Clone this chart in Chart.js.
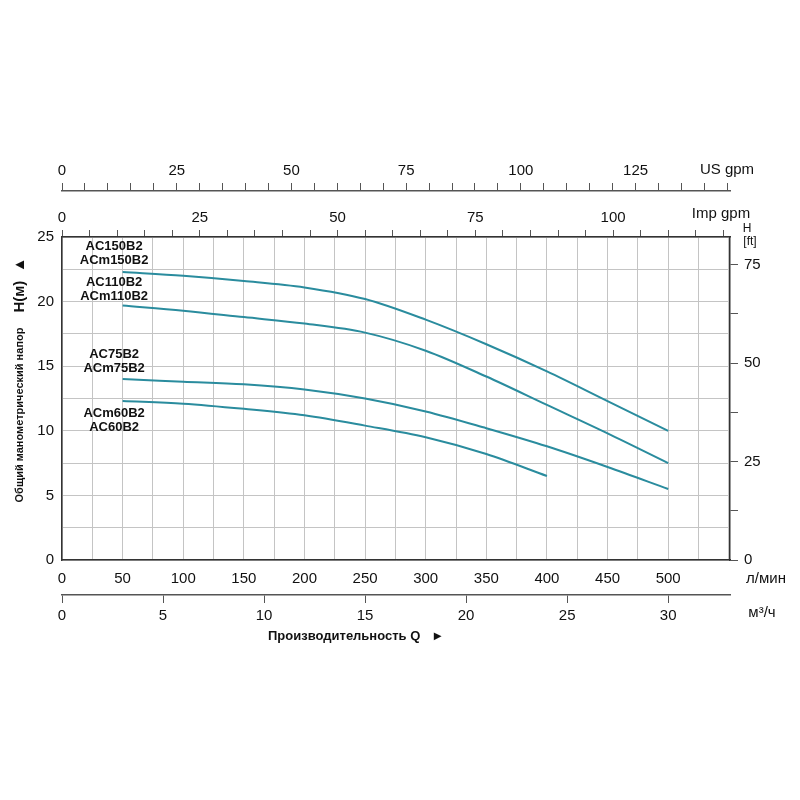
<!DOCTYPE html>
<html><head><meta charset="utf-8">
<script src="https://cdn.jsdelivr.net/npm/chart.js@4"></script>
<style>body{margin:0;background:#fff}</style>
</head><body>
<canvas id="c" width="800" height="800"></canvas>
<script>
const flowLpm = [50,100,150,200,250,300,350,400,450,500];
const headAC150 = [22.3,22.0,21.6,21.1,20.2,18.6,16.7,14.6,12.3,10.0];
const headAC110 = [19.7,19.3,18.8,18.3,17.6,16.2,14.2,12.0,9.8,7.5];
const headAC75  = [14.0,13.8,13.6,13.2,12.5,11.5,10.2,8.8,7.2,5.5];
const flowAC60  = [50,100,150,200,250,300,350,400];
const headAC60  = [12.3,12.1,11.7,11.2,10.4,9.5,8.2,6.5];
const curveLabels = [["AC150B2","ACm150B2"],["AC110B2","ACm110B2"],["AC75B2","ACm75B2"],["ACm60B2","AC60B2"]];
const labelHeads = [23.75,20.95,15.35,10.8];

const XMAX = 551;
const col = '#2a8c9e';
const font = {family:'Liberation Sans, Arial, sans-serif', size:15};
function pts(xs,ys){return xs.map((x,i)=>({x,y:ys[i]}));}
function ds(d){return {data:d,borderColor:col,borderWidth:2,pointRadius:0,cubicInterpolationMode:'monotone',fill:false};}
function fix(prop,v){return s=>{s[prop]=v;};}
function stepTicks(step){return s=>{const t=[];for(let v=s.min;v<=s.max+1e-6;v+=step)t.push({value:Math.round(v*1000)/1000});s.ticks=t;};}

const textPlugin={id:'txt',afterDraw(ch){
  const c=ch.ctx, y=ch.scales.y, x=ch.scales.x;
  c.save();c.fillStyle='#111';c.textAlign='center';c.textBaseline='middle';
  c.font='bold 13px Liberation Sans, Arial, sans-serif';
  curveLabels.forEach((l,i)=>{const yy=y.getPixelForValue(labelHeads[i]);
    c.fillText(l[0],x.getPixelForValue(43),yy-7);c.fillText(l[1],x.getPixelForValue(43),yy+7);});
  c.font='15px Liberation Sans, Arial, sans-serif';
  c.fillText('US gpm',727,170);c.fillText('Imp gpm',721,214);
  c.fillText('л/мин',766,579);c.fillText('м³/ч',762,613);
  c.font='12px Liberation Sans, Arial, sans-serif';
  c.fillText('H',747,229);c.fillText('[ft]',750,242);
  c.font='bold 13px Liberation Sans, Arial, sans-serif';
  c.textAlign='left';c.fillText('Производительность Q   ►',268,636);
  c.translate(20,400);c.rotate(-Math.PI/2);c.textAlign='center';
  c.font='bold 11px Liberation Sans, Arial, sans-serif';
  c.fillText('Общий манометрический напор',-15,0);
  c.font='bold 15px Liberation Sans, Arial, sans-serif';
  c.fillText('H(м)  ▲',115,0);
  c.restore();
}};

new Chart(document.getElementById('c'),{
  type:'line',
  data:{datasets:[ds(pts(flowLpm,headAC150)),ds(pts(flowLpm,headAC110)),ds(pts(flowLpm,headAC75)),ds(pts(flowAC60,headAC60))]},
  options:{responsive:false,animation:false,
    layout:{padding:{top:158,bottom:155,left:0,right:0}},
    plugins:{legend:{display:false},tooltip:{enabled:false}},
    scales:{
      x:{type:'linear',position:'bottom',min:0,max:XMAX,weight:0,afterFit:fix('height',35),
        afterBuildTicks:stepTicks(25),
        grid:{color:'#c4c4c4',tickLength:0,drawTicks:false},border:{color:'#333',width:1.5},
        ticks:{font,color:'#111',padding:10,maxRotation:0,autoSkip:false,callback:v=>(v%50===0&&v<=500)?v:''}},
      xm:{type:'linear',position:'bottom',min:0,max:XMAX/16.6667,weight:1,afterFit:fix('height',50),
        afterBuildTicks:stepTicks(5),
        grid:{drawOnChartArea:false,tickLength:8,color:'#555'},border:{color:'#555',width:1.5},
        ticks:{font,color:'#111',padding:4,maxRotation:0,autoSkip:false,callback:v=>v<=30?v:''}},
      ximp:{type:'linear',position:'top',min:0,max:XMAX/4.546,weight:0,afterFit:fix('height',46),
        afterBuildTicks:stepTicks(5),
        grid:{drawOnChartArea:false,tickLength:7,color:'#555'},border:{color:'#333',width:1.5},
        ticks:{font,color:'#111',padding:3,maxRotation:0,autoSkip:false,callback:v=>(v%25===0&&v<=100)?v:''}},
      xus:{type:'linear',position:'top',min:0,max:XMAX/3.785,weight:1,afterFit:fix('height',33),
        afterBuildTicks:stepTicks(5),
        grid:{drawOnChartArea:false,tickLength:8,color:'#555'},border:{color:'#555',width:1.5},
        ticks:{font,color:'#111',padding:3,maxRotation:0,autoSkip:false,callback:v=>(v%25===0&&v<=125)?v:''}},
      y:{type:'linear',position:'left',min:0,max:25,afterFit:fix('width',62),
        afterBuildTicks:stepTicks(2.5),
        grid:{color:'#c4c4c4',drawTicks:false},border:{color:'#333',width:1.5},
        ticks:{font,color:'#111',padding:8,autoSkip:false,callback:v=>v%5===0?v:''}},
      yft:{type:'linear',position:'right',min:0,max:25/0.3048,afterFit:fix('width',70),
        afterBuildTicks:stepTicks(12.5),
        grid:{drawOnChartArea:false,tickLength:8,color:'#555'},border:{color:'#333',width:1.5},
        ticks:{font,color:'#111',padding:6,autoSkip:false,callback:v=>v%25===0?v:''}}
    }},
  plugins:[textPlugin]
});
</script>
</body></html>
